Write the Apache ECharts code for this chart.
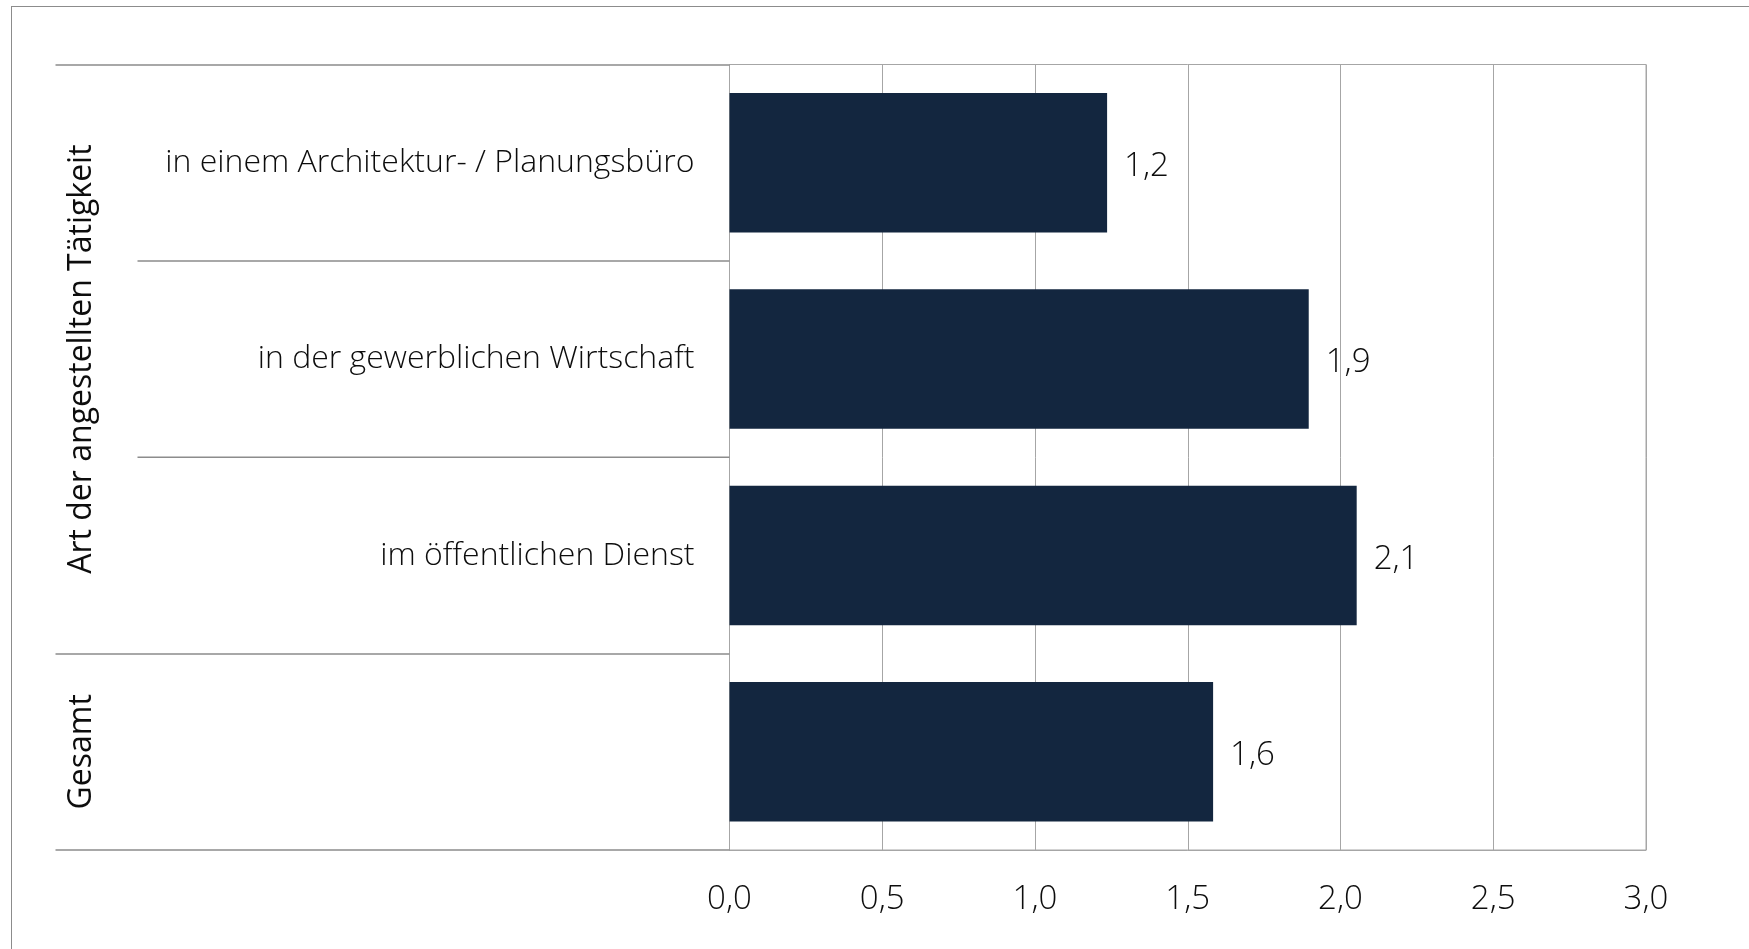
<!DOCTYPE html>
<html>
<head>
<meta charset="utf-8">
<script src="https://cdn.jsdelivr.net/npm/echarts@6/dist/echarts.min.js"></script>
<style>
  html, body { margin: 0; padding: 0; background: #fff; overflow: hidden; }
  #frame { position: absolute; left: 11px; top: 6px; width: 1800px; height: 1000px; border: 1px solid #8c8c8c; box-sizing: border-box; }
  #chart { position: absolute; left: 0; top: 0; width: 1749px; height: 949px; }
</style>
</head>
<body>
<div id="frame"></div>
<div id="chart"></div>
<script>
const categories = ['in einem Architektur- / Planungsbüro', 'in der gewerblichen Wirtschaft', 'im öffentlichen Dienst', ''];
const groupLabels = ['', 'Art der angestellten Tätigkeit', '', 'Gesamt'];
const values = [1.236, 1.896, 2.053, 1.583];
const groupBoundaries = [0, 3, 4];

const FONT = '"Open Sans", "Segoe UI", sans-serif';
const LINE = '#a6a6a6';
const SEP = '#8c8c8c';
const TEXT = '#0d0d0d';

const chart = echarts.init(document.getElementById('chart'), null, { renderer: 'canvas' });
chart.setOption({
  animation: false,
  grid: { left: 729.5, right: 103, top: 64.5, bottom: 99, show: true, borderColor: LINE, borderWidth: 1 },
  xAxis: {
    type: 'value', min: 0, max: 3, interval: 0.5,
    axisLine: { show: true, lineStyle: { color: LINE } },
    axisTick: { show: false },
    splitLine: { show: true, lineStyle: { color: LINE, width: 1 } },
    axisLabel: {
      margin: 33, color: TEXT, fontFamily: FONT, fontWeight: 300, fontSize: 33,
      formatter: v => v.toFixed(1).replace('.', ',')
    }
  },
  yAxis: [
    {
      type: 'category', data: categories, inverse: true, position: 'left',
      axisLine: { show: true, lineStyle: { color: LINE } },
      axisTick: { show: true, length: 592, lineStyle: { color: SEP, width: 1.5 } },
      axisLabel: { interval: 0, margin: 35, color: TEXT, fontFamily: FONT, fontWeight: 300, fontSize: 32 }
    },
    {
      type: 'category', data: groupLabels, inverse: true, position: 'left',
      axisLine: { show: false },
      axisTick: { show: true, length: 674, interval: (i) => groupBoundaries.indexOf(i) >= 0, lineStyle: { color: SEP, width: 1.5 } },
      axisLabel: {
        interval: 0, hideOverlap: false,
        margin: 648, rotate: 90, align: 'center', verticalAlign: 'middle',
        color: TEXT, fontFamily: FONT, fontWeight: 400, fontSize: 32
      }
    }
  ],
  series: [{
    type: 'bar', data: values, yAxisIndex: 0,
    barCategoryGap: '29%',
    itemStyle: { color: '#13263f' },
    label: {
      show: true, position: 'right', distance: 17, offset: [0, 4],
      color: TEXT, fontFamily: FONT, fontWeight: 300, fontSize: 33,
      formatter: p => p.value.toFixed(1).replace('.', ',')
    }
  }]
});
</script>
</body>
</html>
